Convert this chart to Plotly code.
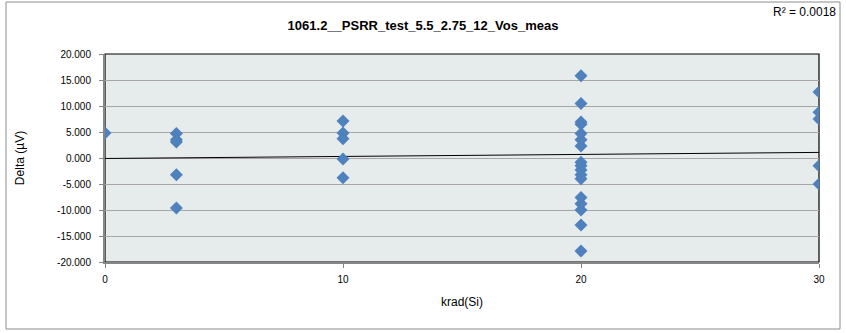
import numpy as np
import plotly.graph_objects as go

# Data
krad = [0,
        3, 3, 3, 3, 3,
        10, 10, 10, 10, 10,
        20, 20, 20, 20, 20, 20, 20, 20, 20, 20, 20, 20, 20, 20, 20, 20, 20,
        30, 30, 30, 30, 30]
delta = [4.8,
         4.7, 3.5, 3.1, -3.2, -9.6,
         7.1, 4.8, 3.7, -0.2, -3.8,
         15.8, 10.5, 6.9, 6.5, 4.7, 3.5, 2.3, -0.8, -1.5, -2.3, -3.2, -4.0, -7.6, -8.8, -10.0, -12.9, -17.9,
         12.7, 8.8, 7.5, -1.5, -5.0]
title = "1061.2__PSRR_test_5.5_2.75_12_Vos_meas"
r2_label = "R² = 0.0018"
y_ticks = [20, 15, 10, 5, 0, -5, -10, -15, -20]
x_ticks = [0, 10, 20, 30]

slope, intercept = np.polyfit(krad, delta, 1)
x_fit = [0, 30]
y_fit = [intercept + slope * x for x in x_fit]

FONT = "Liberation Sans Narrow, Liberation Sans, Arial, sans-serif"

fig = go.Figure()
fig.add_trace(go.Scatter(x=x_fit, y=y_fit, mode="lines",
                         line=dict(color="black", width=1), hoverinfo="skip"))
fig.add_trace(go.Scatter(x=krad, y=delta, mode="markers",
                         marker=dict(symbol="diamond", size=10, color="#4F81BD",
                                     line=dict(width=0))))

L, R, T, B = 105, 27, 54, 71
W, H = 846, 333
pw, ph = W - L - R, H - T - B

def px(x):
    return (x - L) / pw

def py(y):
    return (H - B - y) / ph

fig.update_layout(
    width=W, height=H,
    margin=dict(l=L, r=R, t=T, b=B),
    paper_bgcolor="white",
    plot_bgcolor="#E6ECEC",
    showlegend=False,
    font=dict(family=FONT, size=11, color="black"),
    title=dict(text="<b>" + title + "</b>", x=(423 - L) / pw, xref="paper",
               xanchor="center", y=1 - 25 / H, yanchor="middle",
               font=dict(size=13, family=FONT)),
    xaxis=dict(range=[0, 30], tickvals=x_ticks, ticktext=[str(v) for v in x_ticks],
               showgrid=False, zeroline=False, showline=True, linecolor="#868686",
               linewidth=1.5, ticks="outside", ticklen=4, tickcolor="#868686",
               ticklabelstandoff=3,
               tickfont=dict(size=10), title=dict(text="krad(Si)", font=dict(size=12), standoff=14)),
    yaxis=dict(range=[-20, 20], tickvals=y_ticks, ticktext=[f"{v:.3f}" for v in y_ticks],
               showgrid=True, gridcolor="#A6A6A6", gridwidth=1, zeroline=False,
               showline=True, linecolor="#868686", linewidth=2,
               ticks="outside", ticklen=4, tickcolor="#868686",
               ticklabelstandoff=6,
               tickfont=dict(size=10), title=dict(text="Delta (µV)", font=dict(size=12), standoff=30)),
    shapes=[
        dict(type="rect", xref="paper", yref="paper", x0=0, x1=1, y0=0, y1=1,
             line=dict(color="black", width=1.2), layer="below"),
        dict(type="rect", xref="paper", yref="paper", x0=px(6), x1=px(840), y0=py(329), y1=py(2),
             line=dict(color="#8C8C8C", width=1), layer="below"),
    ],
    annotations=[
        dict(text=r2_label, xref="paper", yref="paper", x=px(838), y=py(12),
             xanchor="right", yanchor="middle", showarrow=False,
             font=dict(size=12, family=FONT)),
    ],
)

fig.write_html("out.html")
